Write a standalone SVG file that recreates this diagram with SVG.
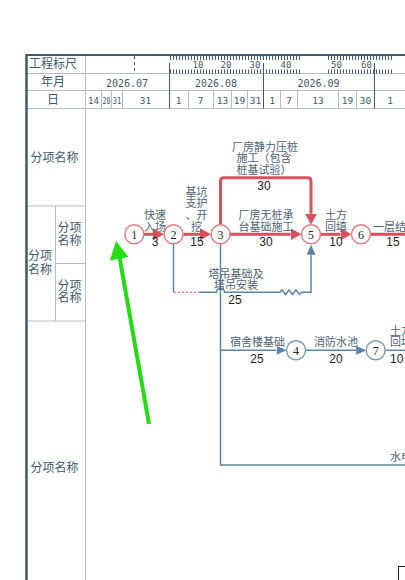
<svg xmlns="http://www.w3.org/2000/svg" width="405" height="580" viewBox="0 0 405 580">
<style>
.grid{stroke:#b4bec9;stroke-width:1;fill:none}
.frame{stroke:#45576a;fill:none}
.hdr{font-family:"Noto Sans CJK SC",sans-serif;font-size:12px;fill:#3e5a6b;text-anchor:middle}
.num{font-family:"DejaVu Sans Mono","Liberation Mono",monospace;font-size:10px;fill:#3e5a6b;text-anchor:middle}
.day{font-family:"DejaVu Sans Mono","Liberation Mono",monospace;font-size:9.5px;fill:#3e5a6b;text-anchor:middle}
.rul{font-family:"DejaVu Sans Mono","Liberation Mono",monospace;font-size:9px;fill:#3e5a6b;text-anchor:middle}
.tick{stroke:#45576a;stroke-width:4;stroke-dasharray:1 2;fill:none}
.crit{stroke:#d9515f;stroke-width:3;fill:none}
.norm{stroke:#5b84a6;stroke-width:1.5;fill:none}
.free{stroke:#e06070;stroke-width:1;stroke-dasharray:2 2;fill:none}
.nc circle{fill:#fff;stroke:#e27d88;stroke-width:1.5}
.nn circle{fill:#fff;stroke:#7d9db8;stroke-width:1.5}
.nid{font-family:"Liberation Serif",serif;font-size:12px;fill:#222;text-anchor:middle}
.lbl{font-family:"Noto Sans CJK SC",sans-serif;font-size:11px;fill:#4e6474;text-anchor:middle}
.lbs{font-family:"Noto Sans CJK SC",sans-serif;font-size:11px;fill:#4e6474;text-anchor:start}
.dur{font-family:"Liberation Sans",sans-serif;font-size:12px;fill:#222;text-anchor:middle}
.dus{font-family:"Liberation Sans",sans-serif;font-size:12px;fill:#222;text-anchor:start}
</style>
<defs>
<marker id="ar" markerUnits="userSpaceOnUse" markerWidth="11" markerHeight="12" viewBox="0 0 11 12" refX="0" refY="6" orient="auto"><path d="M0,0 L11,6 L0,12 z" fill="#d9515f"/></marker>
<marker id="ab" markerUnits="userSpaceOnUse" markerWidth="10" markerHeight="9" viewBox="0 0 10 9" refX="0" refY="4.5" orient="auto"><path d="M0,0 L10,4.5 L0,9 z" fill="#5b84a6"/></marker>
</defs>
<rect x="0" y="0" width="405" height="580" fill="#fff"/>
<g id="table">
<line class="grid" x1="26" y1="73.5" x2="405" y2="73.5"/>
<line class="grid" x1="26" y1="90.5" x2="405" y2="90.5"/>
<line class="grid" x1="26" y1="108.5" x2="405" y2="108.5"/>
<line class="grid" x1="85.5" y1="55" x2="85.5" y2="580"/>
<line class="grid" x1="26" y1="206" x2="85.5" y2="206"/>
<line class="grid" x1="55.5" y1="206" x2="55.5" y2="321"/>
<line class="grid" x1="55.5" y1="263.5" x2="85.5" y2="263.5"/>
<line class="grid" x1="26" y1="321" x2="85.5" y2="321"/>
<g stroke="#45576a" stroke-width="1">
<line x1="169.5" y1="73.5" x2="169.5" y2="108.5"/>
<line x1="263.5" y1="73.5" x2="263.5" y2="108.5"/>
<line x1="374.5" y1="73.5" x2="374.5" y2="108.5"/>
<line x1="169.5" y1="63" x2="169.5" y2="73.5"/>
<line x1="263.5" y1="63" x2="263.5" y2="73.5"/>
<line x1="374.5" y1="63" x2="374.5" y2="73.5"/>
</g>
<g class="grid">
<line x1="101.5" y1="90.5" x2="101.5" y2="108.5"/>
<line x1="111.5" y1="90.5" x2="111.5" y2="108.5"/>
<line x1="122.5" y1="90.5" x2="122.5" y2="108.5"/>
<line x1="188.5" y1="90.5" x2="188.5" y2="108.5"/>
<line x1="213.5" y1="90.5" x2="213.5" y2="108.5"/>
<line x1="231.5" y1="90.5" x2="231.5" y2="108.5"/>
<line x1="247.5" y1="90.5" x2="247.5" y2="108.5"/>
<line x1="280.5" y1="90.5" x2="280.5" y2="108.5"/>
<line x1="297.5" y1="90.5" x2="297.5" y2="108.5"/>
<line x1="338.5" y1="90.5" x2="338.5" y2="108.5"/>
<line x1="356.5" y1="90.5" x2="356.5" y2="108.5"/>
</g>
<line x1="134.5" y1="56" x2="134.5" y2="73" stroke="#45576a" stroke-width="1" stroke-dasharray="3 3"/>
<line class="tick" x1="170" y1="58" x2="300" y2="58"/>
<line class="tick" x1="328" y1="58" x2="392" y2="58"/>
<line class="tick" x1="170" y1="71.5" x2="300" y2="71.5"/>
<line class="tick" x1="328" y1="71.5" x2="392" y2="71.5"/>
<line class="frame" x1="26" y1="55" x2="405" y2="55" stroke-width="2"/>
<line class="frame" x1="26.5" y1="54" x2="26.5" y2="580" stroke-width="2.5"/>
<text class="hdr" x="53" y="68">工程标尺</text>
<text class="hdr" x="53" y="86">年月</text>
<text class="hdr" x="53" y="103.5">日</text>
<text class="rul" x="198" y="68">10</text>
<text class="rul" x="226" y="68">20</text>
<text class="rul" x="255" y="68">30</text>
<text class="rul" x="286" y="68">40</text>
<text class="rul" x="336.5" y="68">50</text>
<text class="rul" x="366.5" y="68">60</text>
<text class="num" x="127" y="86.5">2026.07</text>
<text class="num" x="216" y="86.5">2026.08</text>
<text class="num" x="318.5" y="86.5">2026.09</text>
<text class="day" x="93.5" y="103.5" textLength="11" lengthAdjust="spacingAndGlyphs">14</text>
<text class="day" x="106.5" y="103.5" textLength="8" lengthAdjust="spacingAndGlyphs">20</text>
<text class="day" x="117" y="103.5" textLength="8.5" lengthAdjust="spacingAndGlyphs">31</text>
<text class="day" x="145.5" y="103.5">31</text>
<text class="day" x="178.5" y="103.5">1</text>
<text class="day" x="200.5" y="103.5">7</text>
<text class="day" x="222.5" y="103.5">13</text>
<text class="day" x="239.5" y="103.5">19</text>
<text class="day" x="255.5" y="103.5">31</text>
<text class="day" x="272" y="103.5">1</text>
<text class="day" x="289" y="103.5">7</text>
<text class="day" x="318" y="103.5">13</text>
<text class="day" x="347.5" y="103.5">19</text>
<text class="day" x="365.5" y="103.5">30</text>
<text class="day" x="390" y="103.5">1</text>
<text class="hdr" x="54.5" y="162">分项名称</text>
<text class="hdr" x="40" y="259.5">分项</text>
<text class="hdr" x="40" y="273.5">名称</text>
<text class="hdr" x="69.5" y="232">分项</text>
<text class="hdr" x="69.5" y="244.5">名称</text>
<text class="hdr" x="69.5" y="290">分项</text>
<text class="hdr" x="69.5" y="302">名称</text>
<text class="hdr" x="54.5" y="472">分项名称</text>
</g>
<g id="connectors">
<line class="crit" x1="143.5" y1="234.3" x2="153" y2="234.3" marker-end="url(#ar)"/>
<line class="crit" x1="183.5" y1="234.3" x2="200" y2="234.3" marker-end="url(#ar)"/>
<line class="crit" x1="230" y1="234.3" x2="290.5" y2="234.3" marker-end="url(#ar)"/>
<path class="crit" d="M220.5,224.8 V181 Q220.5,177.7 224,177.7 H307.8 Q311,177.7 311,181 V213.8" marker-end="url(#ar)"/>
<line class="crit" x1="320.5" y1="234.3" x2="340.5" y2="234.3" marker-end="url(#ar)"/>
<line class="crit" x1="370.5" y1="234.3" x2="405" y2="234.3"/>
<path class="norm" d="M173.5,243.8 V292.3"/>
<line class="free" x1="174" y1="292.3" x2="200" y2="292.3"/>
<path class="norm" d="M200,292.3 H216.5 A4,4 0 0 1 224.5,292.3 H280 L282,290 L285.5,294.5 L289,290 L292.5,294.5 L296,290 L299.5,294.5 L302,292.3 H311 V254.8" marker-end="url(#ab)"/>
<path class="norm" d="M220.5,243.8 V465 H405"/>
<line class="norm" x1="220.5" y1="350.3" x2="276.5" y2="350.3" marker-end="url(#ab)"/>
<line class="norm" x1="305.5" y1="350.3" x2="356.2" y2="350.3" marker-end="url(#ab)"/>
<line class="norm" x1="385.2" y1="350.3" x2="405" y2="350.3"/>
</g>
<g id="labels">
<text class="lbl" x="155" y="219">快速</text>
<text class="lbl" x="155" y="230.5">入场</text>
<text class="dur" x="155" y="246">3</text>
<text class="lbl" x="196.5" y="195.7">基坑</text>
<text class="lbl" x="196.5" y="207.3">支护</text>
<text class="lbl" x="196.5" y="219">、开</text>
<text class="lbl" x="196.5" y="230.5">挖</text>
<text class="dur" x="197" y="246">15</text>
<text class="lbl" x="265" y="150.7">厂房静力压桩</text>
<text class="lbl" x="264" y="162.3">施工（包含</text>
<text class="lbl" x="264" y="173.5">桩基试验）</text>
<text class="dur" x="264" y="189.5">30</text>
<text class="lbl" x="266" y="219">厂房无桩承</text>
<text class="lbl" x="266" y="230.5">台基础施工</text>
<text class="dur" x="266" y="246">30</text>
<text class="lbl" x="336" y="219">土方</text>
<text class="lbl" x="336" y="230.5">回填</text>
<text class="dur" x="336" y="246">10</text>
<text class="lbs" x="373" y="230.5">一层结</text>
<text class="dur" x="393" y="246">15</text>
<text class="lbl" x="236" y="277.5">塔吊基础及</text>
<text class="lbl" x="236" y="288.5">塔吊安装</text>
<text class="dur" x="235" y="304.3">25</text>
<text class="lbl" x="257.5" y="345.7">宿舍楼基础</text>
<text class="dur" x="257" y="362.6">25</text>
<text class="lbl" x="336" y="345.7">消防水池</text>
<text class="dur" x="336" y="362.6">20</text>
<text class="lbs" x="390" y="334.5">土方</text>
<text class="lbs" x="390" y="345.5">回填</text>
<text class="dus" x="390" y="362.6">10</text>
<text class="lbs" x="390" y="460.5">水电</text>
</g>
<g id="node-1" class="nc"><circle cx="134.3" cy="234.3" r="9.5"/><text class="nid" x="134.3" y="238.5">1</text></g>
<g id="node-2" class="nc"><circle cx="173.5" cy="234.3" r="9.5"/><text class="nid" x="173.5" y="238.5">2</text></g>
<g id="node-3" class="nc"><circle cx="220.5" cy="234.3" r="9.5"/><text class="nid" x="220.5" y="238.5">3</text></g>
<g id="node-5" class="nc"><circle cx="311" cy="234.3" r="9.5"/><text class="nid" x="311" y="238.5">5</text></g>
<g id="node-6" class="nc"><circle cx="361" cy="234.3" r="9.5"/><text class="nid" x="361" y="238.5">6</text></g>
<g id="node-4" class="nn"><circle cx="296" cy="350.3" r="9.5"/><text class="nid" x="296" y="354.5">4</text></g>
<g id="node-7" class="nn"><circle cx="375.7" cy="350.3" r="9.5"/><text class="nid" x="375.7" y="354.5">7</text></g>
<g id="pointer">
<line x1="149" y1="424" x2="119.5" y2="257" stroke="#22dd11" stroke-width="4"/>
<polygon points="116,241 128.5,257 109.9,260.4" fill="#22dd11"/>
</g>
<rect x="398.5" y="566.5" width="10" height="20" fill="#fff" stroke="#222" stroke-width="1"/>
</svg>
